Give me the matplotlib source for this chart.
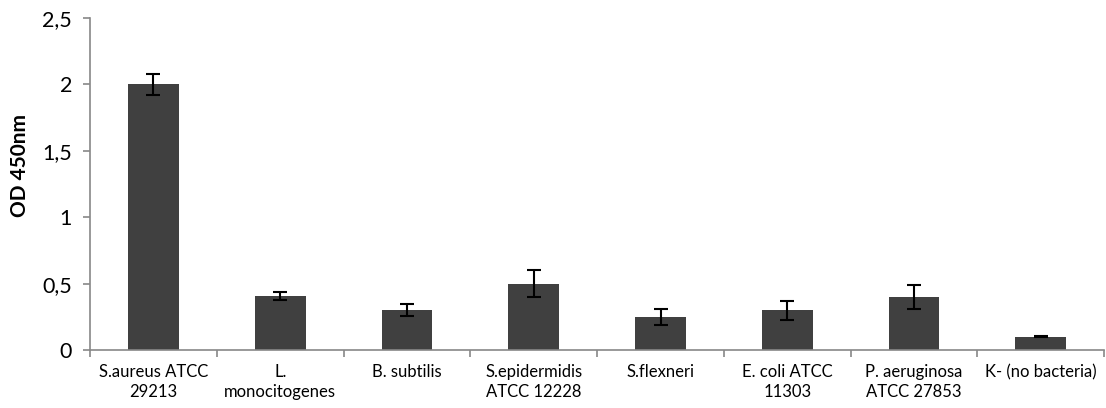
import matplotlib
matplotlib.use("Agg")
import matplotlib.pyplot as plt
from matplotlib.ticker import FixedLocator
import numpy as np

categories = ["S.aureus ATCC\n29213", "L.\nmonocitogenes", "B. subtilis",
              "S.epidermidis\nATCC 12228", "S.flexneri", "E. coli ATCC\n11303",
              "P. aeruginosa\nATCC 27853", "K- (no bacteria)"]
values = [2.0, 0.41, 0.30, 0.50, 0.25, 0.30, 0.40, 0.10]
errors = [0.08, 0.03, 0.045, 0.10, 0.06, 0.07, 0.09, 0.004]
yticks = [0, 0.5, 1, 1.5, 2, 2.5]
ytick_labels = ["0", "0,5", "1", "1,5", "2", "2,5"]

plt.rcParams['font.family'] = ['Lato', 'DejaVu Sans']

fig = plt.figure(figsize=(11.06, 4.08), dpi=100)
ax = fig.add_axes([0.0814, 0.142, 0.917, 0.814])

x = np.arange(len(categories))
ax.bar(x, values, width=0.4, color="#404040", zorder=2)
ax.errorbar(x, values, yerr=errors, fmt="none", ecolor="black",
            elinewidth=1.5, capsize=5, capthick=1.5, zorder=3)

ax.set_xlim(-0.5, len(categories) - 0.5)
ax.set_ylim(0, 2.5)
ax.set_yticks(yticks)
ax.set_yticklabels(ytick_labels, fontsize=15.5)
ax.set_xticks(x)
ax.set_xticklabels(categories, fontsize=12, linespacing=1.3)
ax.tick_params(axis="x", which="major", length=0, pad=10)
ax.xaxis.set_minor_locator(FixedLocator(np.arange(-0.5, len(categories) + 0.5, 1)))
ax.tick_params(axis="x", which="minor", length=5, color="#888888", width=1.2)
ax.tick_params(axis="y", length=5, color="#888888", width=1.2, pad=8)

for s in ["top", "right"]:
    ax.spines[s].set_visible(False)
for s in ["left", "bottom"]:
    ax.spines[s].set_color("#888888")
    ax.spines[s].set_linewidth(1.2)

ax.set_ylabel("OD 450nm", fontsize=15, fontweight="bold")
ax.yaxis.set_label_coords(-0.059, 0.557)

fig.savefig("out.png", dpi=100)
